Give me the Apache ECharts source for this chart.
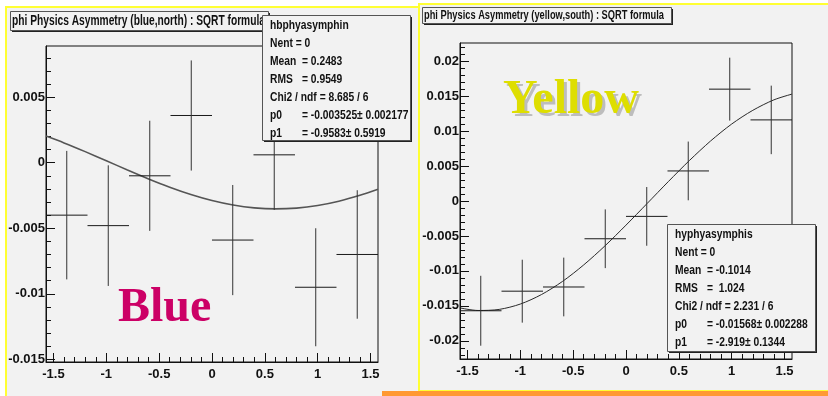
<!DOCTYPE html>
<html>
<head>
<meta charset="utf-8">
<script src="https://cdn.jsdelivr.net/npm/echarts@6/dist/echarts.min.js"></script>
<style>
  html, body { margin: 0; padding: 0; background: #ffffff; }
  #chart { width: 828px; height: 396px; }
</style>
</head>
<body>
<div id="chart"></div>
<script>
// ---- phi binning: 8 bins across [-pi/2, pi/2] ----
const phiCenters = [-1.3744, -0.9817, -0.5890, -0.1963, 0.1963, 0.5890, 0.9817, 1.3744];
const binHalfWidth = Math.PI / 16;

// ---- blue beam (north) asymmetry and errors ----
const blueAsym = [-0.0040, -0.0048, -0.0010, 0.0036, -0.0059, 0.0006, -0.0095, -0.0070];
const blueErr  = [0.0049, 0.0046, 0.0042, 0.0042, 0.0042, 0.0042, 0.0045, 0.0049];

// ---- yellow beam (south) asymmetry and errors ----
const yellowAsym = [-0.0157, -0.0129, -0.0123, -0.0054, -0.0022, 0.0043, 0.0160, 0.0116];
const yellowErr  = [0.0050, 0.0045, 0.0042, 0.0042, 0.0042, 0.0042, 0.0045, 0.0049];

// ---- fitted curves, sampled along phi ----
const curvePhi  = [-1.5708, -1.4, -1.2, -1.0, -0.8, -0.6, -0.4, -0.2, 0, 0.2, 0.4, 0.6, 0.8, 1.0, 1.2, 1.4, 1.5708];
const blueFit   = [0.002027, 0.001507, 0.000844, 0.000147, -0.000556, -0.001236, -0.001867, -0.002424,
                   -0.002884, -0.003229, -0.003446, -0.003525, -0.003463, -0.003264, -0.002934, -0.002487, -0.002026];
const yellowFit = [-0.015291, -0.015659, -0.015507, -0.014741, -0.013382, -0.011493, -0.009140, -0.006429,
                   -0.003452, -0.000354, 0.002767, 0.005789, 0.008578, 0.011008, 0.012971, 0.014470, 0.015291];

// ---- axis tick labels ----
const phiTicks    = [-1.5, -1, -0.5, 0, 0.5, 1, 1.5];
const blueTicks   = [-0.015, -0.01, -0.005, 0, 0.005];
const yellowTicks = [-0.02, -0.015, -0.01, -0.005, 0, 0.005, 0.01, 0.015, 0.02];

// ---- text ----
const blueTitle   = 'phi Physics Asymmetry (blue,north) : SQRT formula';
const yellowTitle = 'phi Physics Asymmetry (yellow,south) : SQRT formula';
const blueStats = [
  ['hbphyasymphin', ''],
  ['Nent = 0', ''],
  ['Mean', '= 0.2483'],
  ['RMS', '= 0.9549'],
  ['Chi2 / ndf = 8.685 / 6', ''],
  ['p0', '= -0.003525\u00b1 0.002177'],
  ['p1', '= -0.9583\u00b1 0.5919']
];
const yellowStats = [
  ['hyphyasymphis', ''],
  ['Nent = 0', ''],
  ['Mean', '= -0.1014'],
  ['RMS', '=  1.024'],
  ['Chi2 / ndf = 2.231 / 6', ''],
  ['p0', '= -0.01568\u00b1 0.002288'],
  ['p1', '= -2.919\u00b1 0.1344']
];

// minor tick positions (every 0.1 in phi, every 0.001 in asymmetry)
function steps(from, to, scale) {
  const out = [];
  for (let k = from; k <= to; k++) out.push(k / scale);
  return out;
}
const phiMinor    = steps(-15, 15, 10);
const blueMinor   = steps(-15, 8, 1000);
const yellowMinor = steps(-22, 22, 1000);

const FONT = '"Liberation Sans", Arial, sans-serif';
const INK = '#111111';
const PANEL_BG = '#f2f2f2';
const fmt = v => String(Number(Number(v).toFixed(6)));

const measureCtx = document.createElement('canvas').getContext('2d');
function textWidth(str, font) { measureCtx.font = font; return measureCtx.measureText(str).width; }

// ROOT-style narrow lettering: regular font squeezed horizontally
const blueTitleFont = 'bold 14px ' + FONT;
const blueTitleScale = 253 / textWidth(blueTitle, blueTitleFont);
const yellowTitleFont = 'bold 13px ' + FONT;
const yellowTitleScale = 240 / textWidth(yellowTitle, yellowTitleFont);
const statsFont = 'bold 13px ' + FONT;
const statsScale = 0.79;

function xAxes(g) {
  return [
    {
      type: 'value', gridIndex: g, position: 'bottom',
      min: -Math.PI / 2, max: Math.PI / 2,
      axisLine: { show: true, onZero: false, lineStyle: { color: INK, width: 1 } },
      axisTick: { show: true, inside: true, length: 9, customValues: phiTicks, lineStyle: { color: INK } },
      axisLabel: { show: true, customValues: phiTicks, margin: 6, color: INK, fontSize: 13,
                   fontWeight: 'bold', fontFamily: FONT, formatter: fmt },
      splitLine: { show: false }
    },
    {
      type: 'value', gridIndex: g, position: 'bottom',
      min: -Math.PI / 2, max: Math.PI / 2,
      axisLine: { show: false, onZero: false },
      axisTick: { show: true, inside: true, length: 5, customValues: phiMinor, lineStyle: { color: INK } },
      axisLabel: { show: false },
      splitLine: { show: false }
    }
  ];
}

function yAxes(g, min, max, ticks, minor) {
  return [
    {
      type: 'value', gridIndex: g, position: 'left', min: min, max: max,
      axisLine: { show: true, onZero: false, lineStyle: { color: INK, width: 1 } },
      axisTick: { show: true, inside: true, length: 9, customValues: ticks, lineStyle: { color: INK } },
      axisLabel: { show: true, customValues: ticks, margin: 1, color: INK, fontSize: 13,
                   fontWeight: 'bold', fontFamily: FONT, formatter: fmt },
      splitLine: { show: false }
    },
    {
      type: 'value', gridIndex: g, position: 'left', min: min, max: max,
      axisLine: { show: false, onZero: false },
      axisTick: { show: true, inside: true, length: 5, customValues: minor, lineStyle: { color: INK } },
      axisLabel: { show: false },
      splitLine: { show: false }
    }
  ];
}

function errorBars(xi, yi, values, errors) {
  return {
    type: 'custom',
    xAxisIndex: xi, yAxisIndex: yi,
    z: 4,
    data: phiCenters.map((x, i) => [x, values[i], errors[i]]),
    renderItem: (params, api) => {
      const x = api.value(0), y = api.value(1), e = api.value(2);
      const a = api.coord([x - binHalfWidth, y]);
      const b = api.coord([x + binHalfWidth, y]);
      const c = api.coord([x, y + e]);
      const d = api.coord([x, y - e]);
      return {
        type: 'group',
        children: [
          { type: 'line', shape: { x1: a[0], y1: a[1], x2: b[0], y2: b[1] }, style: { stroke: '#1a1a1a', lineWidth: 1 } },
          { type: 'line', shape: { x1: c[0], y1: c[1], x2: d[0], y2: d[1] }, style: { stroke: '#333333', lineWidth: 1 } }
        ]
      };
    }
  };
}

function fitLine(xi, yi, values, color, width) {
  return {
    type: 'line', xAxisIndex: xi, yAxisIndex: yi, z: 3,
    data: curvePhi.map((x, i) => [x, values[i]]),
    showSymbol: false, smooth: 0.3,
    lineStyle: { color: color, width: width },
    silent: true
  };
}

// a ROOT-style pave: box with a dark drop shadow
function pave(x, y, w, h, z) {
  return [
    { type: 'rect', z: z, shape: { x: x + 2, y: y + 2, width: w, height: h }, style: { fill: '#222222' } },
    { type: 'rect', z: z + 1, shape: { x: x + 0.5, y: y + 0.5, width: w, height: h },
      style: { fill: PANEL_BG, stroke: '#555555', lineWidth: 1 } }
  ];
}

function condensedText(str, x, y, font, scale, z) {
  return { type: 'text', z: z, x: x, y: y, scaleX: scale,
           style: { text: str, x: 0, y: 0, font: font, fill: INK, textVerticalAlign: 'middle' } };
}

function statsBox(lines, x, y, w, h, z) {
  const els = pave(x, y, w, h, z);
  lines.forEach((ln, i) => {
    const ty = y + 10 + i * 18;
    els.push(condensedText(ln[0], x + 8, ty, statsFont, statsScale, z + 2));
    if (ln[1]) els.push(condensedText(ln[1], x + 40, ty, statsFont, statsScale, z + 2));
  });
  return els;
}

const graphics = [
  // canvases
  { type: 'rect', z: -10, shape: { x: 6, y: 7, width: 420, height: 400 },
    style: { fill: PANEL_BG, stroke: '#ffff33', lineWidth: 2 } },
  { type: 'rect', z: -9, shape: { x: 419, y: 4, width: 420, height: 387 },
    style: { fill: PANEL_BG, stroke: '#ffff33', lineWidth: 2 } },
  { type: 'rect', z: -8, shape: { x: 382, y: 391, width: 446, height: 5 }, style: { fill: '#ff9933' } },

  // beam labels
  { type: 'text', z: 20, x: 118, y: 309,
    style: { text: 'Blue', font: 'bold 48px "Liberation Serif", "Times New Roman", serif', fill: '#cc0066',
             textVerticalAlign: 'middle' } },
  { type: 'text', z: 20, x: 506, y: 104,
    style: { text: 'Yellow', font: 'bold 48px "Liberation Serif", "Times New Roman", serif', fill: '#bdbdbd',
             textVerticalAlign: 'middle' } },
  { type: 'text', z: 21, x: 503, y: 101,
    style: { text: 'Yellow', font: 'bold 48px "Liberation Serif", "Times New Roman", serif', fill: '#dede00',
             textVerticalAlign: 'middle' } },

  // titles
  ...pave(10, 11, 258, 19, 30),
  condensedText(blueTitle, 12, 21, blueTitleFont, blueTitleScale, 33),
  ...pave(422, 7, 249, 16, 30),
  condensedText(yellowTitle, 424, 15.5, yellowTitleFont, yellowTitleScale, 33),

  // statistics boxes
  ...statsBox(blueStats, 262, 15, 148, 125, 40),
  ...statsBox(yellowStats, 667, 224, 148, 127, 40)
];

const option = {
  animation: false,
  backgroundColor: '#ffffff',
  grid: [
    { left: 46, top: 46, width: 332, height: 316, show: true, borderColor: INK, borderWidth: 1,
      backgroundColor: 'transparent', containLabel: false },
    { left: 460, top: 43, width: 332, height: 316, show: true, borderColor: INK, borderWidth: 1,
      backgroundColor: 'transparent', containLabel: false }
  ],
  xAxis: [...xAxes(0), ...xAxes(1)],
  yAxis: [...yAxes(0, -0.0152, 0.0089, blueTicks, blueMinor),
          ...yAxes(1, -0.0226, 0.0226, yellowTicks, yellowMinor)],
  series: [
    fitLine(0, 0, blueFit, '#555555', 1.6),
    errorBars(0, 0, blueAsym, blueErr),
    fitLine(2, 2, yellowFit, '#2a2a2a', 1),
    errorBars(2, 2, yellowAsym, yellowErr)
  ],
  graphic: { elements: graphics }
};

const chart = echarts.init(document.getElementById('chart'), null, { renderer: 'canvas' });
chart.setOption(option);
</script>
</body>
</html>
